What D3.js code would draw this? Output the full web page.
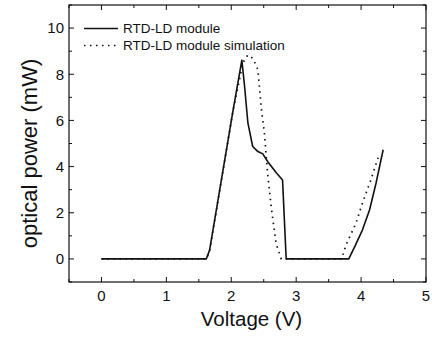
<!DOCTYPE html>
<html>
<head>
<meta charset="utf-8">
<script src="https://cdn.jsdelivr.net/npm/d3@7"></script>
<style>
  body { margin: 0; background: #fff; }
  svg { display: block; font-family: Arial, "Liberation Sans", sans-serif; }
</style>
</head>
<body>
<svg id="chart" width="432" height="338"></svg>
<script>
// --- data ---
const measuredV = [0, 1.615, 1.666, 2.025, 2.163, 2.205, 2.256, 2.33, 2.41, 2.486, 2.56, 2.69, 2.79, 2.846, 3.81, 3.90, 4.02, 4.13, 4.23, 4.34];
const measuredP = [0, 0, 0.38, 6.39, 8.61, 7.48, 5.89, 4.87, 4.65, 4.55, 4.22, 3.74, 3.42, 0, 0, 0.52, 1.25, 2.12, 3.28, 4.73];

const simV = [0, 1.62, 1.67, 2.025, 2.18, 2.24, 2.28, 2.34, 2.41, 2.46, 2.51, 2.56, 2.615, 2.69, 2.77, 3.70, 3.77, 3.92, 4.02, 4.15, 4.27];
const simP = [0, 0, 0.4, 6.39, 8.5, 8.78, 8.83, 8.65, 8.2, 6.6, 5.45, 3.71, 2.26, 0.67, 0, 0, 0.62, 1.54, 2.41, 3.42, 4.45];

const legendLabels = ["RTD-LD module", "RTD-LD module simulation"];
const xTicks = [0, 1, 2, 3, 4, 5];
const yTicks = [0, 2, 4, 6, 8, 10];

// --- layout ---
const box = { left: 69, right: 426, top: 5, bottom: 282 };
const svg = d3.select('#chart');

const x = d3.scaleLinear().domain([-0.5, 5]).range([box.left, box.right]);
const y = d3.scaleLinear().domain([-1, 11]).range([box.bottom, box.top]);

const ink = '#111';

// frame
svg.append('rect')
  .attr('x', box.left).attr('y', box.top)
  .attr('width', box.right - box.left).attr('height', box.bottom - box.top)
  .attr('fill', 'none').attr('stroke', ink).attr('stroke-width', 1.2);

// ticks (inward, on all four sides)
const xMinor = d3.range(-0.5, 5.01, 0.5).filter(v => !xTicks.includes(v));
const yMinor = d3.range(-1, 11.01, 2);

function xTickMarks(vals, len) {
  vals.forEach(v => {
    svg.append('line').attr('x1', x(v)).attr('x2', x(v))
      .attr('y1', box.bottom).attr('y2', box.bottom - len).attr('stroke', ink);
    svg.append('line').attr('x1', x(v)).attr('x2', x(v))
      .attr('y1', box.top).attr('y2', box.top + len).attr('stroke', ink);
  });
}
function yTickMarks(vals, len) {
  vals.forEach(v => {
    svg.append('line').attr('y1', y(v)).attr('y2', y(v))
      .attr('x1', box.left).attr('x2', box.left + len).attr('stroke', ink);
    svg.append('line').attr('y1', y(v)).attr('y2', y(v))
      .attr('x1', box.right).attr('x2', box.right - len).attr('stroke', ink);
  });
}
xTickMarks(xTicks, 5);
xTickMarks(xMinor, 3);
yTickMarks(yTicks, 5);
yTickMarks(yMinor, 3);

// tick labels
svg.append('g').selectAll('text').data(xTicks).join('text')
  .attr('x', d => x(d)).attr('y', 301)
  .attr('text-anchor', 'middle').attr('font-size', 15).attr('fill', ink)
  .text(d => d);
svg.append('g').selectAll('text').data(yTicks).join('text')
  .attr('x', 64).attr('y', d => y(d) + 5.4)
  .attr('text-anchor', 'end').attr('font-size', 15).attr('fill', ink)
  .text(d => d);

// axis titles
svg.append('text').attr('x', 251.5).attr('y', 326)
  .attr('text-anchor', 'middle').attr('font-size', 20.5).attr('fill', ink)
  .text('Voltage (V)');
svg.append('text')
  .attr('transform', 'translate(36.5,153.5) rotate(-90)')
  .attr('text-anchor', 'middle').attr('font-size', 22).attr('fill', ink)
  .text('optical power (mW)');

// curves
const line = d3.line().x(d => x(d[0])).y(d => y(d[1]));
const measured = d3.zip(measuredV, measuredP);
const sim = d3.zip(simV, simP);

svg.append('path').datum(sim).attr('d', line)
  .attr('fill', 'none').attr('stroke', ink).attr('stroke-width', 1.7)
  .attr('stroke-dasharray', '1.5,4.5');
svg.append('path').datum(measured).attr('d', line)
  .attr('fill', 'none').attr('stroke', ink).attr('stroke-width', 1.6)
  .attr('stroke-linejoin', 'round');

// legend
const legend = svg.append('g');
legendLabels.forEach((lab, i) => {
  const ly = 28.5 + i * 17;
  const l = legend.append('line').attr('x1', 84).attr('x2', 118)
    .attr('y1', ly).attr('y2', ly).attr('stroke', ink);
  if (i === 0) l.attr('stroke-width', 1.6);
  else l.attr('stroke-width', 1.7).attr('stroke-dasharray', '1.5,4.5');
  legend.append('text').attr('x', 123).attr('y', ly + 4.9)
    .attr('font-size', 13.5).attr('fill', ink).text(lab);
});
</script>
</body>
</html>
